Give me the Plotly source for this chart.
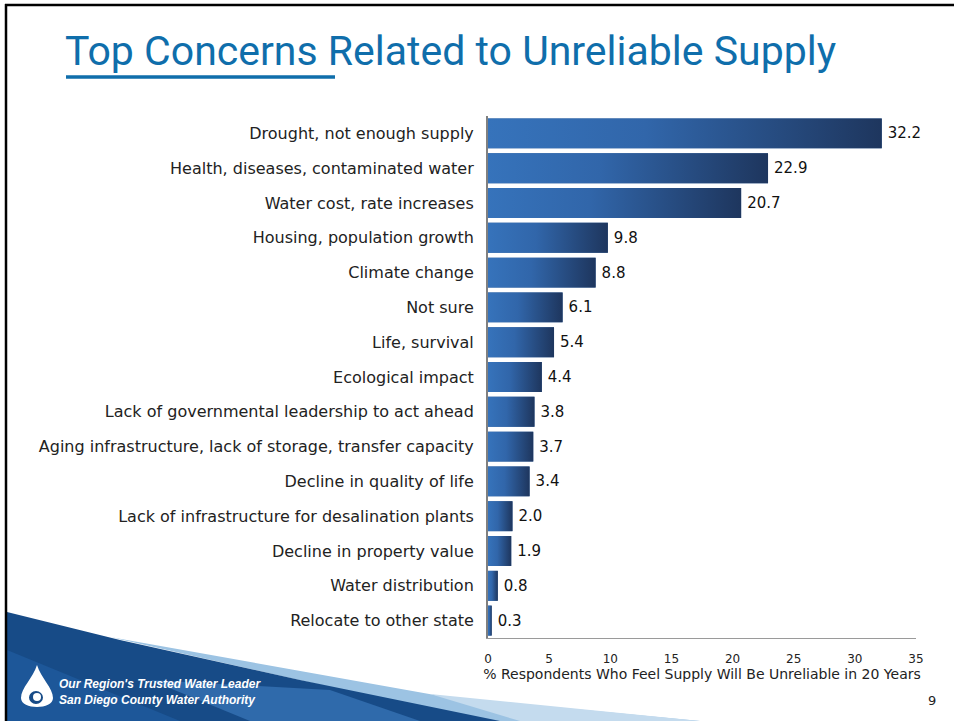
import plotly.graph_objects as go

categories = [
    "Drought, not enough supply",
    "Health, diseases, contaminated water",
    "Water cost, rate increases",
    "Housing, population growth",
    "Climate change",
    "Not sure",
    "Life, survival",
    "Ecological impact",
    "Lack of governmental leadership to act ahead",
    "Aging infrastructure, lack of storage, transfer capacity",
    "Decline in quality of life",
    "Lack of infrastructure for desalination plants",
    "Decline in property value",
    "Water distribution",
    "Relocate to other state",
]
values = [32.2, 22.9, 20.7, 9.8, 8.8, 6.1, 5.4, 4.4, 3.8, 3.7, 3.4, 2.0, 1.9, 0.8, 0.3]
x_ticks = [0, 5, 10, 15, 20, 25, 30, 35]

title_text = "Top Concerns Related to Unreliable Supply"
x_title = "% Respondents Who Feel Supply Will Be Unreliable in 20 Years"
logo_line1 = "Our Region's Trusted Water Leader"
logo_line2 = "San Diego County Water Authority"
page_no = "9"

W, H = 954, 721
ML, MR, MT, MB = 488, 38, 116, 83
PW, PH = W - ML - MR, H - MT - MB


def px(x):
    return (x - ML) / PW


def py(y):
    return 1 - (y - MT) / PH


positions = list(range(len(categories)))
half = 0.43
grad = [[0, "#3673bb"], [0.4, "#3166aa"], [1, "#1e365e"]]

fig = go.Figure()
fig.add_trace(go.Bar(
    x=values, y=positions, orientation="h", width=2 * half,
    marker=dict(color="#2b5a96", line=dict(width=0)),
    text=[f"\u2009{v:.1f}" for v in values], textposition="outside",
    textfont=dict(family="DejaVu Sans", size=15, color="#111111"),
    cliponaxis=False, showlegend=False,
))
for v, p in zip(values, positions):
    fig.add_trace(go.Scatter(
        x=[0, v, v, 0, 0], y=[p - half, p - half, p + half, p + half, p - half],
        mode="lines", fill="toself", line=dict(width=0),
        fillgradient=dict(type="horizontal", colorscale=grad, start=0, stop=v),
        hoverinfo="skip", showlegend=False,
    ))

shapes = []
# slide frame
shapes.append(dict(type="line", xref="paper", yref="paper", x0=px(5), x1=px(954), y0=py(5), y1=py(5),
                   line=dict(color="black", width=2.5)))
shapes.append(dict(type="line", xref="paper", yref="paper", x0=px(6), x1=px(6), y0=py(4), y1=py(721),
                   line=dict(color="black", width=2.5)))
# title underline
shapes.append(dict(type="line", xref="paper", yref="paper", x0=px(66), x1=px(335), y0=py(77), y1=py(77),
                   line=dict(color="#0f6eab", width=3.5)))


def poly(pts, color):
    d = "M " + " L ".join(f"{px(a):.5f},{py(b):.5f}" for a, b in pts) + " Z"
    return dict(type="path", xref="paper", yref="paper", path=d, fillcolor=color, line=dict(width=0), layer="below")


# bottom-left swoosh
shapes.append(poly([(110, 637), (446, 697), (700, 721), (480, 721)], "#9cc3e3"))
shapes.append(poly([(430, 694), (700, 721), (520, 721)], "#c4dbee"))
shapes.append(poly([(7, 612), (120, 640), (300, 680), (500, 721), (7, 721)], "#174b87"))
shapes.append(poly([(7, 650), (180, 721), (7, 721)], "#1d5799"))
shapes.append(poly([(150, 680), (330, 690), (420, 721), (250, 721)], "#2f6aab"))
# water drop
dx, dy = 37, 690
drop = (f"M {px(dx):.5f},{py(dy - 25):.5f} "
        f"C {px(dx + 4):.5f},{py(dy - 12):.5f} {px(dx + 16):.5f},{py(dy - 2):.5f} {px(dx + 16):.5f},{py(dy + 8):.5f} "
        f"C {px(dx + 16):.5f},{py(dy + 20):.5f} {px(dx - 16):.5f},{py(dy + 20):.5f} {px(dx - 16):.5f},{py(dy + 8):.5f} "
        f"C {px(dx - 16):.5f},{py(dy - 2):.5f} {px(dx - 4):.5f},{py(dy - 12):.5f} {px(dx):.5f},{py(dy - 25):.5f} Z")
shapes.append(dict(type="path", xref="paper", yref="paper", path=drop, fillcolor="white", line=dict(width=0)))
shapes.append(dict(type="circle", xref="paper", yref="paper", x0=px(dx - 8), x1=px(dx + 6), y0=py(dy + 14), y1=py(dy + 1),
                   fillcolor="#174b87", line=dict(width=0)))
shapes.append(dict(type="circle", xref="paper", yref="paper", x0=px(dx - 4), x1=px(dx + 4), y0=py(dy + 11), y1=py(dy + 3),
                   fillcolor="white", line=dict(width=0)))

annotations = [
    dict(text=title_text, xref="paper", yref="paper", x=px(63), y=py(51), xanchor="left", yanchor="middle",
         showarrow=False, font=dict(family="Roboto, sans-serif", size=41, color="#0f6eab")),
    dict(text=f"<b><i>{logo_line1}</i></b>", xref="paper", yref="paper", x=px(57), y=py(684), xanchor="left",
         yanchor="middle", showarrow=False,
         font=dict(family="Liberation Sans", size=12, color="white")),
    dict(text=f"<b><i>{logo_line2}</i></b>", xref="paper", yref="paper", x=px(57), y=py(700), xanchor="left",
         yanchor="middle", showarrow=False,
         font=dict(family="Liberation Sans", size=12, color="white")),
    dict(text=page_no, xref="paper", yref="paper", x=px(932), y=py(700), xanchor="center", yanchor="middle",
         showarrow=False, font=dict(family="DejaVu Sans", size=13, color="#222222")),
]

fig.update_layout(
    width=W, height=H,
    margin=dict(l=ML, r=MR, t=MT, b=MB, pad=0),
    paper_bgcolor="white", plot_bgcolor="white",
    shapes=shapes, annotations=annotations,
    xaxis=dict(range=[0, 35], tickvals=x_ticks, ticktext=[str(t) for t in x_ticks],
               showgrid=False, zeroline=False, showline=True, linecolor="#9a9a9a", linewidth=1,
               ticks="outside", ticklen=10, tickcolor="rgba(0,0,0,0)",
               tickfont=dict(family="DejaVu Sans", size=12, color="#222222"),
               title=dict(text=x_title, standoff=3, font=dict(family="DejaVu Sans", size=14, color="#222222"))),
    yaxis=dict(range=[len(categories) - 0.5, -0.5], tickvals=positions, ticktext=categories,
               showgrid=False, zeroline=False, showline=True, linecolor="#808080", linewidth=2,
               ticks="outside", ticklen=9, tickcolor="rgba(0,0,0,0)",
               tickfont=dict(family="DejaVu Sans", size=16, color="#222222")),
    font=dict(family="DejaVu Sans"),
)

fig.write_html(
    "out.html",
    config={"displayModeBar": False},
    post_script="document.body.style.margin='0';document.body.style.overflow='hidden';",
)
